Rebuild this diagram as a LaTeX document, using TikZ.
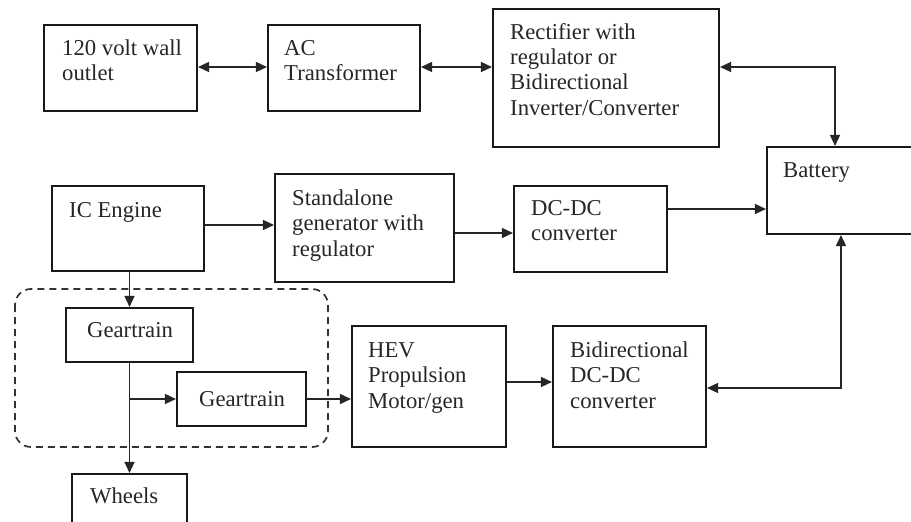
\documentclass[tikz,border=0pt]{standalone}
\usepackage{fontspec}
\setmainfont{Liberation Serif}
\usetikzlibrary{arrows.meta,calc}
\newcommand{\blines}[1]{\begin{tabular}[t]{@{}l@{}}#1\end{tabular}}
\begin{document}
\begin{tikzpicture}[x=1pt,y=-1pt,
  box/.style={draw=black!90,line width=2.1pt,inner sep=0pt,rectangle},
  lbl/.style={anchor=base west,inner sep=0pt,font=\fontsize{22.7}{25.5}\selectfont,text=black!85},
  conn/.style={line width=1.5pt,draw=black!85,-{Triangle[length=11pt,width=10pt]}},
  bconn/.style={line width=1.5pt,draw=black!85,{Triangle[length=11pt,width=10pt]}-{Triangle[length=11pt,width=10pt]}},
  dashbox/.style={draw=black!80,line width=1.7pt,dash pattern=on 7pt off 5pt,rounded corners=16pt}]
\useasboundingbox (0,0) rectangle (911,522);
\fontsize{22.7}{25.5}\selectfont
% dashed group
\draw[dashbox] (15,289) rectangle (328,447);
% boxes
\node[box,minimum width=153pt,minimum height=86pt] (outlet) at (120.5,68) {};
\node[box,minimum width=152pt,minimum height=86pt] (actr) at (344,68) {};
\node[box,minimum width=226pt,minimum height=138pt] (rect) at (606,78) {};
\node[box,minimum width=148pt,minimum height=87pt] (battery) at (841,190.5) {};
\node[box,minimum width=152pt,minimum height=85pt] (ice) at (128,228.5) {};
\node[box,minimum width=179pt,minimum height=108pt] (sgen) at (364.5,228) {};
\node[box,minimum width=153pt,minimum height=86pt] (dcdc) at (590.5,229) {};
\node[box,minimum width=127pt,minimum height=54pt] (gt1) at (129.5,335) {};
\node[box,minimum width=129pt,minimum height=54pt] (gt2) at (241.5,399) {};
\node[box,minimum width=154pt,minimum height=121pt] (hev) at (429,386.5) {};
\node[box,minimum width=153pt,minimum height=121pt] (bidir) at (629.5,386.5) {};
\node[box,minimum width=115pt,minimum height=56pt] (wheels) at (129.5,502) {};
% texts
\node[lbl] (t1) at (62,55) {\blines{120 volt wall\\outlet}};
\node[lbl] (t2) at (284,55) {\blines{AC\\Transformer}};
\node[lbl] (t3) at (510,39) {\blines{Rectifier with\\regulator or\\Bidirectional\\Inverter/Converter}};
\node[lbl] (t4) at (783,177) {Battery};
\node[lbl] (t5) at (69,217) {IC Engine};
\node[lbl] (t6) at (292,205) {\blines{Standalone\\generator with\\regulator}};
\node[lbl] (t7) at (531,215) {\blines{DC-DC\\converter}};
\node[lbl] (t8) at (87,337) {Geartrain};
\node[lbl] (t9) at (199,406) {Geartrain};
\node[lbl] (t10) at (368,357) {\blines{HEV\\Propulsion\\Motor/gen}};
\node[lbl] (t11) at (570,357) {\blines{Bidirectional\\DC-DC\\converter}};
\node[lbl] (t12) at (90,503) {Wheels};
% connectors
\draw[bconn] ([yshift=1pt]outlet.east) -- ([yshift=1pt]actr.west);
\draw[bconn] ([yshift=1pt]actr.east) -- ([yshift=1pt]actr.east -| rect.west);
\draw[bconn] ([yshift=1pt]actr.east -| rect.east) -| ([xshift=-6pt]battery.north);
\draw[conn] ([yshift=3.5pt]ice.east) -- ([yshift=3.5pt]ice.east -| sgen.west);
\draw[conn] ([yshift=-5pt]sgen.east) -- ([yshift=-5pt]sgen.east -| dcdc.west);
\draw[conn] ([yshift=20pt]dcdc.east) -- ([yshift=20pt]dcdc.east -| battery.west);
\draw[conn] (gt1.north |- ice.south) -- (gt1.north);
\draw[conn] (gt1.south) -- (wheels.north);
\coordinate (br) at (gt1.south |- gt2.west);
\draw[conn] (br) -- (gt2.west);
\draw[conn] (gt2.east) -- (gt2.east -| hev.west);
\draw[conn] ([yshift=4.5pt]hev.east) -- ([yshift=4.5pt]hev.east -| bidir.west);
\draw[bconn] ([yshift=-1.5pt]bidir.east) -| (battery.south);
\end{tikzpicture}
\end{document}
